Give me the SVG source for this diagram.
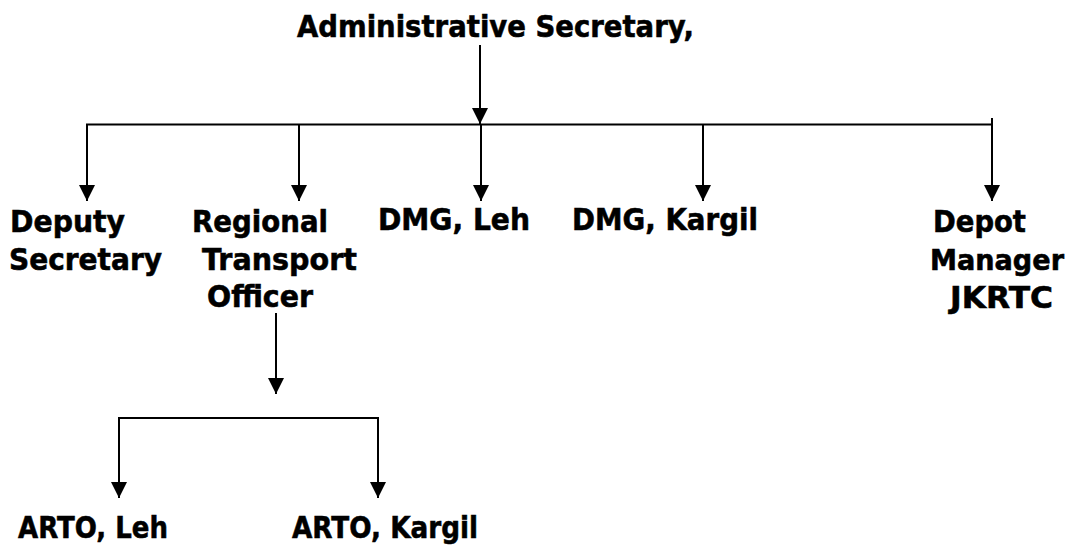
<svg xmlns="http://www.w3.org/2000/svg" width="1076" height="549" viewBox="0 0 1076 549">
<style>
  text { font-family: "DejaVu Sans", Verdana, sans-serif; font-weight: bold; fill: #000; stroke: #000; stroke-width: 0.6; }
  .lbl { font-size: 31px; }
  .ttl { font-size: 31px; }
  .ln { stroke: #000; stroke-width: 2; fill: none; }
  .arr { stroke: #000; stroke-width: 2; fill: none; marker-end: url(#ah); }
</style>
<defs>
  <marker id="ah" markerUnits="userSpaceOnUse" markerWidth="17" markerHeight="17" refX="16" refY="8" orient="auto">
    <path d="M0,0 L16,8 L0,16 z" fill="#000"/>
  </marker>
</defs>
<rect width="1076" height="549" fill="#fff"/>
<g id="connectors">
  <line class="arr" x1="480" y1="45" x2="480" y2="124"/>
  <line class="ln" x1="86" y1="124.5" x2="993" y2="124.5"/>
  <line class="ln" x1="992" y1="118" x2="992" y2="125"/>
  <line class="arr" x1="87" y1="124" x2="87" y2="201"/>
  <line class="arr" x1="299" y1="124" x2="299" y2="201"/>
  <line class="arr" x1="481" y1="124" x2="481" y2="201"/>
  <line class="arr" x1="703" y1="124" x2="703" y2="201"/>
  <line class="arr" x1="992" y1="124" x2="992" y2="201"/>
  <line class="arr" x1="276" y1="313" x2="276" y2="394"/>
  <line class="ln" x1="118" y1="418" x2="379" y2="418"/>
  <line class="arr" x1="119" y1="417" x2="119" y2="498"/>
  <line class="arr" x1="378" y1="417" x2="378" y2="498"/>
</g>
<g id="admin-secretary">
  <text class="ttl" x="297" y="37" textLength="397" lengthAdjust="spacingAndGlyphs">Administrative Secretary,</text>
</g>
<g id="deputy-secretary">
  <text class="lbl" x="10" y="232" textLength="115" lengthAdjust="spacingAndGlyphs">Deputy</text>
  <text class="lbl" x="9" y="270" textLength="153" lengthAdjust="spacingAndGlyphs">Secretary</text>
</g>
<g id="rto">
  <text class="lbl" x="192" y="232" textLength="136" lengthAdjust="spacingAndGlyphs">Regional</text>
  <text class="lbl" x="202" y="270" textLength="155" lengthAdjust="spacingAndGlyphs">Transport</text>
  <text class="lbl" x="207" y="307" textLength="106" lengthAdjust="spacingAndGlyphs">Officer</text>
</g>
<g id="dmg-leh">
  <text class="lbl" x="378" y="230" textLength="152" lengthAdjust="spacingAndGlyphs">DMG, Leh</text>
</g>
<g id="dmg-kargil">
  <text class="lbl" x="572" y="230" textLength="186" lengthAdjust="spacingAndGlyphs">DMG, Kargil</text>
</g>
<g id="depot-manager">
  <text class="lbl" x="933" y="232" textLength="93" lengthAdjust="spacingAndGlyphs">Depot</text>
  <text x="930" y="270" font-size="29" textLength="134" lengthAdjust="spacingAndGlyphs">Manager</text>
  <text class="lbl" x="950" y="308" textLength="103" lengthAdjust="spacingAndGlyphs">JKRTC</text>
</g>
<g id="arto-leh">
  <text class="lbl" x="18" y="538" textLength="150" lengthAdjust="spacingAndGlyphs">ARTO, Leh</text>
</g>
<g id="arto-kargil">
  <text class="lbl" x="292" y="538" textLength="186" lengthAdjust="spacingAndGlyphs">ARTO, Kargil</text>
</g>
</svg>
